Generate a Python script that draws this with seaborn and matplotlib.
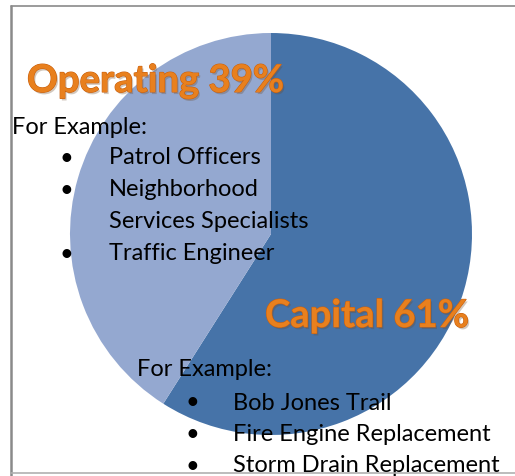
import matplotlib
matplotlib.use("Agg")
import matplotlib.pyplot as plt
import matplotlib.patheffects as pe
from matplotlib.lines import Line2D
import seaborn as sns

categories = ["Capital", "Operating"]
wedge_values = [59, 41]  # wedge sizes as drawn in the picture
labels = ["Capital 61%", "Operating 39%"]
operating_examples = ["Patrol Officers", "Neighborhood", "Services Specialists", "Traffic Engineer"]
operating_bullets = [True, True, False, True]
capital_examples = ["Bob Jones Trail", "Fire Engine Replacement", "Storm Drain Replacement"]

sns.set_theme(style="white")
plt.rcParams["font.family"] = ["Lato", "DejaVu Sans"]

W, H = 515, 476
fig = plt.figure(figsize=(W / 100, H / 100), dpi=100)
ax = fig.add_axes([0, 0, 1, 1])
colors = ["#4673A8", "#94A8D0"]
ax.pie(wedge_values, colors=colors, startangle=90, counterclock=False,
       center=(271, H - 234), radius=201, wedgeprops=dict(linewidth=0))
ax.set_xlim(0, W)
ax.set_ylim(0, H)
ax.set_aspect("auto")
ax.axis("off")

def py(y):
    return H - y

orange = "#E8801E"
title_fx = [pe.withSimplePatchShadow(offset=(1.2, -1.5), shadow_rgbFace="#6b4a2a", alpha=0.3),
            pe.withStroke(linewidth=0.8, foreground="#C86010")]
ax.text(27, py(81), labels[1], fontsize=27.5, fontweight="bold", color=orange,
        ha="left", va="center", path_effects=title_fx)
ax.text(265, py(316), labels[0], fontsize=27.5, fontweight="bold", color=orange,
        ha="left", va="center", path_effects=title_fx)

fs = 17
ax.text(12, py(127), "For Example:", fontsize=fs, ha="left", va="center", color="black")
for i, (t, b) in enumerate(zip(operating_examples, operating_bullets)):
    y = py(158 + 32 * i)
    if b:
        ax.text(60, y, "•", fontsize=fs, ha="left", va="center", color="black")
    ax.text(109, y, t, fontsize=fs, ha="left", va="center", color="black")

ax.text(137, py(369), "For Example:", fontsize=fs, ha="left", va="center", color="black")
for i, t in enumerate(capital_examples):
    y = py(403 + 31.5 * i)
    ax.text(185, y, "•", fontsize=fs, ha="left", va="center", color="black")
    ax.text(233, y, t, fontsize=fs, ha="left", va="center", color="black")

# frame lines
fig.add_artist(Line2D([11 / W, 11 / W], [0, 1 - 6 / H], transform=fig.transFigure, color="#8a8a8a", lw=1.8))
fig.add_artist(Line2D([11 / W, 1], [1 - 6 / H, 1 - 6 / H], transform=fig.transFigure, color="#8a8a8a", lw=1.2))
fig.add_artist(Line2D([11 / W, 1], [1 - 473 / H, 1 - 473 / H], transform=fig.transFigure, color="#b0b0b0", lw=1.2))

fig.savefig("out.png", dpi=100)
